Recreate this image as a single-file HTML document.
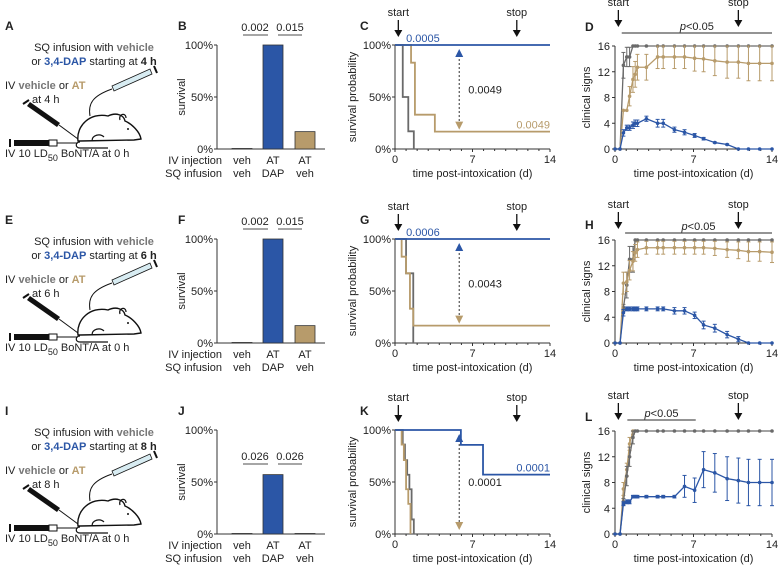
<!DOCTYPE html>
<html><head><meta charset="utf-8">
<style>
html,body{margin:0;padding:0;background:#fff;}
svg{display:block;font-family:"Liberation Sans",Arial,sans-serif;}
</style></head>
<body>
<svg id="fig" width="778" height="567" viewBox="0 0 778 567" xmlns="http://www.w3.org/2000/svg"></svg>
<script>
// ---------- data ----------
const barCats = ["veh","AT","AT"];
const barCats2 = ["veh","DAP","veh"];
const barB = [0.5,100,16.7];
const barF = [0.5,100,16.7];
const barJ = [0.5,57.1,0.5];
const sigB = ["0.002","0.015"];
const sigF = ["0.002","0.015"];
const sigJ = ["0.026","0.026"];
const hoursRow = ["4","6","8"];

const kmC_greyT = [0,0.7,1.2,1.7];   const kmC_greyS = [100,50,17,0];
const kmC_tanT = [0,1.45,1.8,3.6];   const kmC_tanS = [100,83,33,16.7];
const kmC_blueT = [0];               const kmC_blueS = [100];
const kmG_greyT = [0,1.0,1.65];      const kmG_greyS = [100,67,0];
const kmG_tanT = [0,0.6,1.0,1.35,1.65]; const kmG_tanS = [100,83,67,33,16.7];
const kmG_blueT = [0];               const kmG_blueS = [100];
const kmK_greyT = [0,0.7,0.9,1.1,1.3,1.5,1.7]; const kmK_greyS = [100,86,71,57,43,14,0];
const kmK_tanT = [0,0.6,0.8,1.0,1.2,1.4];      const kmK_tanS = [100,86,71,43,29,0];
const kmK_blueT = [0,5.95,7.95];     const kmK_blueS = [100,85.7,57.1];
const pvalC = ["0.0005","0.0049","0.0049"];
const pvalG = ["0.0006","0.0043",""];
const pvalK = ["0.0001","0.0001","0.0001"];

const csT = [0,0.45,0.75,1.05,1.3,1.6,1.8,2,2.8,3.8,4.3,5.3,6.2,7.1,7.9,8.9,10,11,11.9,12.9,14];
const D_grey = [0,0,13,14.3,14.3,16,16,16,16,16,16,16,16,16,16,16,16,16,16,16,16];
const D_greyE = [0,0,2,1.5,1.5,0,0,0,0,0,0,0,0,0,0,0,0,0,0,0,0];
const D_tan = [0,0,6,6,8.2,10.8,11.6,12.7,12.7,14.3,14.3,14.3,14.3,14.1,14,13.7,13.5,13.5,13.3,13.3,13.3];
const D_tanE = [0,0,0,0,1.5,2,2,2,2,1.8,1.8,1.8,1.8,2,2,2.3,2.5,2.5,2.7,2.7,2.7];
const D_blue = [0,0,2.5,3.3,3.3,3.7,4,4,4.7,4,4,3,2.6,2.1,1.6,1,0.7,0,0,0,0];
const D_blueE = [0,0,0.5,0.4,0.4,0.5,0.5,0.5,0.4,0.6,0.6,0.4,0.4,0.3,0.2,0.1,0.1,0,0,0,0];
const H_grey = [0,0,5.5,9,13,13,16,16,16,16,16,16,16,16,16,16,16,16,16,16,16];
const H_greyE = [0,0,0.5,2,2,2,0,0,0,0,0,0,0,0,0,0,0,0,0,0,0];
const H_tan = [0,0,9.3,9.5,11.3,12.7,14,14.5,14.8,14.8,14.8,14.8,14.8,14.8,14.8,14.7,14.5,14.4,14.2,14.2,14.1];
const H_tanE = [0,0,1.7,1.5,1.5,1.5,1.3,1.2,1,1,1,1,1,1,1,1.1,1.2,1.3,1.5,1.5,1.6];
const H_blue = [0,0,4.7,5.3,5.3,5.3,5.3,5.3,5.3,5.3,5.3,5,5,4.3,2.8,2.3,1.3,0.6,0,0,0];
const H_blueE = [0,0,0.5,0.3,0.3,0.3,0.3,0.3,0.3,0.3,0.3,0.5,0.5,0.5,0.6,0.6,0.5,0.4,0,0,0];
const L_grey = [0,0,5,9,12,15,16,16,16,16,16,16,16,16,16,16,16,16,16,16,16];
const L_greyE = [0,0,0.5,1.5,1.5,1,0,0,0,0,0,0,0,0,0,0,0,0,0,0,0];
const L_tan = [0,0,7,10,14,16,null,null,null,null,null,null,null,null,null,null,null,null,null,null,null];
const L_tanE = [0,0,1,1,1,0.5,0,0,0,0,0,0,0,0,0,0,0,0,0,0,0];
const L_blue = [0,0,4.7,5,5,5.8,5.8,5.8,5.8,5.8,5.8,5.8,7.4,6.8,10,9.5,8.6,8.3,8,8,8];
const L_blueE = [0,0,0.3,0.3,0.3,0.2,0.2,0.2,0.2,0.2,0.2,0.2,1.7,1.9,2.8,3,3.4,3.5,3.6,3.6,3.6];
const pSpan = [[0.6,14],[0.9,14],[1.1,7.2]];

// ---------- helpers ----------
const NS="http://www.w3.org/2000/svg";
const svg=document.getElementById('fig');
const BLUE="#2b56a6", TAN="#b79b6b", GREY="#6a6a6a";
function el(tag,attrs,parent,text){const e=document.createElementNS(NS,tag);for(const k in attrs)e.setAttribute(k,attrs[k]);if(text!==undefined)e.textContent=text;(parent||svg).appendChild(e);return e;}
function grp(name){const g=el('g',{});return g;}
function txt(g,x,y,s,opt){opt=opt||{};const t=el('text',{x:x,y:y,'font-size':opt.fs||11,'text-anchor':opt.a||'start',fill:opt.c||'#222','font-weight':opt.w||'normal'},g,s);if(opt.rot)t.setAttribute('transform','rotate(-90 '+x+' '+y+')');return t;}
function line(g,x1,y1,x2,y2,c,w,dash){const l=el('line',{x1:x1,y1:y1,x2:x2,y2:y2,stroke:c||'#333','stroke-width':w||1});if(dash)l.setAttribute('stroke-dasharray',dash);g.appendChild(l);return l;}
function arrowDown(g,x,y1,y2,label){line(g,x,y1,x,y2-5,'#111',1.3);el('polygon',{points:(x-4)+','+(y2-7)+' '+(x+4)+','+(y2-7)+' '+x+','+y2,fill:'#111'},g);txt(g,x,y1-4,label,{a:'middle'});}

const rowOff=[0,194,385];
const letters=[["A","B","C","D"],["E","F","G","H"],["I","J","K","L"]];

// ---------- schematic ----------
function schematic(r){
  const oy=rowOff[r];const g=grp('schematic-'+letters[r][0]);
  txt(g,5,oy+30,letters[r][0],{fs:12,w:'bold'});
  const t1=el('text',{x:94,y:oy+51,'font-size':11,'text-anchor':'middle',fill:'#222'},g);
  el('tspan',{},t1,'SQ infusion with ');el('tspan',{fill:'#777','font-weight':'bold'},t1,'vehicle');
  const t2=el('text',{x:94,y:oy+65,'font-size':11,'text-anchor':'middle',fill:'#222'},g);
  el('tspan',{},t2,'or ');el('tspan',{fill:BLUE,'font-weight':'bold'},t2,'3,4-DAP');el('tspan',{},t2,' starting at ');el('tspan',{'font-weight':'bold'},t2,hoursRow[r]+' h');
  const t3=el('text',{x:5,y:oy+89,'font-size':11,fill:'#222'},g);
  el('tspan',{},t3,'IV ');el('tspan',{fill:'#777','font-weight':'bold'},t3,'vehicle');el('tspan',{},t3,' or ');el('tspan',{fill:TAN,'font-weight':'bold'},t3,'AT');
  txt(g,32,oy+103,'at '+hoursRow[r]+' h');
  const t4=el('text',{x:5,y:oy+157,'font-size':11,fill:'#222'},g);
  el('tspan',{},t4,'IV 10 LD');el('tspan',{'font-size':9,dy:4},t4,'50');el('tspan',{dy:-4},t4,' BoNT/A at 0 h');
  // mouse
  el('path',{d:'M78,'+(oy+141)+' C76,'+(oy+126)+' 90,'+(oy+112)+' 108,'+(oy+116)+' C116,'+(oy+112)+' 124,'+(oy+115)+' 125,'+(oy+121)+' C132,'+(oy+124)+' 140,'+(oy+132)+' 141,'+(oy+139)+' L134,'+(oy+140)+' L80,'+(oy+141)+' Z',fill:'#fff',stroke:'#111','stroke-width':1.4},g);
  el('path',{d:'M120,'+(oy+120)+' c-2,-6 6,-8 6,-2',fill:'none',stroke:'#111','stroke-width':1.2},g);
  el('circle',{cx:128,cy:oy+129,r:1,fill:'#111'},g);
  el('path',{d:'M92,'+(oy+141)+' c0,-6 8,-8 12,-4',fill:'none',stroke:'#111','stroke-width':1.2},g);
  el('path',{d:'M108,'+(oy+148)+' L80,'+(oy+148)+' c-5,0 -5,-6 0,-6',fill:'none',stroke:'#111','stroke-width':1.2},g);
  // bottom syringe
  el('rect',{x:14,y:oy+140,width:35,height:6,fill:'#111'},g);el('rect',{x:49,y:oy+140,width:8,height:6,fill:'#fff',stroke:'#111'},g);
  line(g,10,oy+139,10,oy+147,'#111',2);line(g,57,oy+143,78,oy+143,'#111',1);
  // diagonal syringe
  el('polygon',{points:'27,'+(oy+106)+' 30,'+(oy+102)+' 60,'+(oy+123)+' 57,'+(oy+127),fill:'#111'},g);
  line(g,59,oy+125,78,oy+139,'#111',1);line(g,23,oy+104,29,oy+100,'#111',2);
  // top syringe (light blue)
  el('polygon',{points:'112,'+(oy+86)+' 150,'+(oy+69)+' 152,'+(oy+74)+' 114,'+(oy+91),fill:'#d8ecf2',stroke:'#111','stroke-width':0.8},g);
  line(g,154,oy+66,157,oy+73,'#111',2);
  el('path',{d:'M112,'+(oy+89)+' C92,'+(oy+96)+' 88,'+(oy+104)+' 90,'+(oy+116),fill:'none',stroke:'#111','stroke-width':1},g);
}

// ---------- bar chart ----------
function barChart(r,vals,sig,sigY){
  const oy=rowOff[r];const g=grp('bar-chart-'+letters[r][1]);
  const top=oy+45,bot=oy+149,ax=217;const Y=v=>bot-(v/100)*(bot-top);
  txt(g,178,oy+30,letters[r][1],{fs:12,w:'bold'});
  line(g,ax,top,ax,bot,'#333',1);line(g,ax,bot,325,bot,'#333',1);
  [0,50,100].forEach(v=>{line(g,ax-3,Y(v),ax,Y(v));txt(g,ax-4,Y(v)+4,v+'%',{a:'end'});});
  txt(g,185,(top+bot)/2,'survival',{a:'middle',rot:true});
  const cx=[242,273,305];const cols=['#888',BLUE,TAN];
  vals.forEach((v,i)=>{const b=el('rect',{x:cx[i]-10,y:Y(v),width:20,height:bot-Y(v),fill:cols[i],stroke:'#333','stroke-width':0.8},g);
    
    txt(g,cx[i],bot+15,barCats[i],{a:'middle'});txt(g,cx[i],bot+28,barCats2[i],{a:'middle'});});
  txt(g,222,bot+15,'IV injection',{a:'end'});txt(g,222,bot+28,'SQ infusion',{a:'end'});
  line(g,243,sigY,268,sigY,'#888',1.5);line(g,278,sigY,302,sigY,'#888',1.5);
  txt(g,255,sigY-4,sig[0],{a:'middle'});txt(g,290,sigY-4,sig[1],{a:'middle'});
}

// ---------- KM ----------
function km(r,series,pv,blueLabelAbove){
  const oy=rowOff[r];const g=grp('survival-curve-'+letters[r][2]);
  const top=oy+45,bot=oy+149,x0=395,x1=550;const X=t=>x0+t/14*(x1-x0),Y=s=>bot-s/100*(bot-top);
  txt(g,360,oy+30,letters[r][2],{fs:12,w:'bold'});
  line(g,x0,top,x0,bot);line(g,x0,bot,x1,bot);
  [0,50,100].forEach(v=>{line(g,x0-3,Y(v),x0,Y(v));txt(g,x0-4,Y(v)+4,v+'%',{a:'end'});});
  for(let d=0;d<=14;d++)line(g,X(d),bot,X(d),bot+(d%7==0?3:2));
  [0,7,14].forEach(d=>txt(g,X(d),bot+14,String(d),{a:'middle'}));
  txt(g,(x0+x1)/2,bot+28,'time post-intoxication (d)',{a:'middle'});
  txt(g,356,(top+bot)/2,'survival probability',{a:'middle',rot:true});
  arrowDown(g,X(0.3),oy+20,oy+37,'start');arrowDown(g,X(11),oy+20,oy+37,'stop');
  series.forEach(s=>{let d='M'+X(s.t[0])+','+Y(s.s[0]);
    for(let i=1;i<s.t.length;i++){d+=' H'+X(s.t[i])+' V'+Y(s.s[i]);}
    d+=' H'+(s.s[s.s.length-1]>0?X(14):X(s.t[s.t.length-1]));
    const p=el('path',{d:d,fill:'none',stroke:s.c,'stroke-width':1.8},g);});
  const bl=series[2],tn=series[1];
  const by=Y(bl.s[bl.s.length-1]),ty=Y(tn.s[tn.s.length-1]);
  if(blueLabelAbove) txt(g,X(1),Y(100)-3,pv[0],{c:BLUE}); else txt(g,X(14),by-3,pv[0],{a:'end',c:BLUE});
  if(pv[2]&&r==0)txt(g,X(14),ty-3,pv[2],{a:'end',c:TAN});
  const ax=X(5.8),ay1=Y(100)+4,ay2=Y(tn.s[tn.s.length-1])-2;const ay2b=r==2?bot-4:ay2;
  line(g,ax,ay1+6,ax,ay2b-6,'#333',1,'2,2');
  el('polygon',{points:(ax-4)+','+(ay1+8)+' '+(ax+4)+','+(ay1+8)+' '+ax+','+ay1,fill:BLUE},g);
  el('polygon',{points:(ax-4)+','+(ay2b-8)+' '+(ax+4)+','+(ay2b-8)+' '+ax+','+ay2b,fill:TAN},g);
  txt(g,ax+9,(ay1+ay2b)/2+4,pv[1]);
}

// ---------- clinical ----------
function clin(r,series,span){
  const oy=rowOff[r];const g=grp('clinical-signs-'+letters[r][3]);
  const top=oy+46,bot=oy+149,x0=615,x1=772;const X=t=>x0+t/14*(x1-x0),Y=v=>bot-v/16*(bot-top);
  txt(g,585,oy+(r==0?31:r==1?35:36),letters[r][3],{fs:12,w:'bold'});
  line(g,x0,top,x0,bot);line(g,x0,bot,x1,bot);
  [0,4,8,12,16].forEach(v=>{line(g,x0-3,Y(v),x0,Y(v));txt(g,x0-5,Y(v)+4,String(v),{a:'end'});});
  for(let d=0;d<=14;d++)line(g,X(d),bot,X(d),bot+(d%7==0?3:2));
  [0,7,14].forEach(d=>txt(g,X(d),bot+14,String(d),{a:'middle'}));
  txt(g,(x0+x1)/2,bot+28,'time post-intoxication (d)',{a:'middle'});
  txt(g,590,(top+bot)/2,'clinical signs',{a:'middle',rot:true});
  const aTop=r==0?oy+10:oy+18;
  arrowDown(g,X(0.3),aTop,aTop+17,'start');arrowDown(g,X(11),aTop,aTop+17,'stop');
  const ly=r==0?oy+33:r==1?oy+39:oy+35;
  line(g,X(span[0]),ly,X(span[1]),ly,'#555',1.2);
  const pt=el('text',{x:(X(span[0])+X(span[1]))/2,y:ly-3,'font-size':11,'text-anchor':'middle',fill:'#222'},g);
  el('tspan',{'font-style':'italic'},pt,'p');el('tspan',{},pt,'<0.05');
  series.forEach(s=>{const sg=el('g',{},g);
    let d='';csT.forEach((t,i)=>{const v=s.v[i];if(v===null||v===undefined)return;d+=(d?' L':'M')+X(t)+','+Y(v);});
    el('path',{d:d,fill:'none',stroke:s.c,'stroke-width':1.3},sg);
    csT.forEach((t,i)=>{const v=s.v[i];if(v===null||v===undefined)return;const e=s.e[i];
      if(e>0){line(sg,X(t),Y(Math.min(16,v+e)),X(t),Y(Math.max(0,v-e)),s.c,1);line(sg,X(t)-2,Y(Math.min(16,v+e)),X(t)+2,Y(Math.min(16,v+e)),s.c,1);line(sg,X(t)-2,Y(Math.max(0,v-e)),X(t)+2,Y(Math.max(0,v-e)),s.c,1);}
      el('circle',{cx:X(t),cy:Y(v),r:1.8,fill:s.c},sg);});});
}

for(let r=0;r<3;r++)schematic(r);
barChart(0,barB,sigB,35);barChart(1,barF,sigF,229);barChart(2,barJ,sigJ,464);
km(0,[{n:'veh-veh',t:kmC_greyT,s:kmC_greyS,c:GREY},{n:'at-veh',t:kmC_tanT,s:kmC_tanS,c:TAN},{n:'at-dap',t:kmC_blueT,s:kmC_blueS,c:BLUE}],pvalC,true);
km(1,[{n:'veh-veh',t:kmG_greyT,s:kmG_greyS,c:GREY},{n:'at-veh',t:kmG_tanT,s:kmG_tanS,c:TAN},{n:'at-dap',t:kmG_blueT,s:kmG_blueS,c:BLUE}],pvalG,true);
km(2,[{n:'veh-veh',t:kmK_greyT,s:kmK_greyS,c:GREY},{n:'at-veh',t:kmK_tanT,s:kmK_tanS,c:TAN},{n:'at-dap',t:kmK_blueT,s:kmK_blueS,c:BLUE}],pvalK,false);
clin(0,[{n:'veh-veh',v:D_grey,e:D_greyE,c:GREY},{n:'at-veh',v:D_tan,e:D_tanE,c:TAN},{n:'at-dap',v:D_blue,e:D_blueE,c:BLUE}],pSpan[0]);
clin(1,[{n:'veh-veh',v:H_grey,e:H_greyE,c:GREY},{n:'at-veh',v:H_tan,e:H_tanE,c:TAN},{n:'at-dap',v:H_blue,e:H_blueE,c:BLUE}],pSpan[1]);
clin(2,[{n:'at-veh',v:L_tan,e:L_tanE,c:TAN},{n:'veh-veh',v:L_grey,e:L_greyE,c:GREY},{n:'at-dap',v:L_blue,e:L_blueE,c:BLUE}],pSpan[2]);
</script>
</body></html>
